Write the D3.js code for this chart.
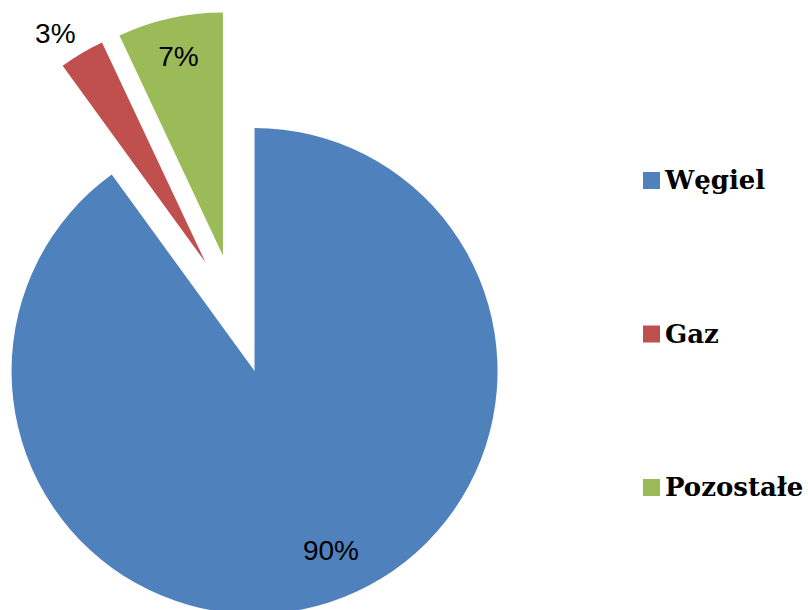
<!DOCTYPE html>
<html>
<head>
<meta charset="utf-8">
<script src="https://cdn.jsdelivr.net/npm/d3@7"></script>
<style>
  body { margin: 0; background: #fff; }
  svg { display: block; }
</style>
</head>
<body>
<div id="chart"></div>
<script>
// data
const categories = ["Węgiel", "Gaz", "Pozostałe"];
const shares = [90, 3, 7];
const colors = ["#4F81BD", "#C0504D", "#9BBB59"];

const width = 808, height = 610;
const center = { x: 236, y: 314 };
const radius = 243;
const explode = 60; // every slice pulled out from the centre

const svg = d3.select("#chart").append("svg")
    .attr("width", width)
    .attr("height", height);

const pie = d3.pie().sort(null).value(d => d)(shares);
const arc = d3.arc().innerRadius(0).outerRadius(radius);

const slices = svg.append("g")
    .attr("transform", `translate(${center.x},${center.y})`)
    .selectAll("g")
    .data(pie)
    .enter().append("g")
    .attr("transform", d => {
        const a = (d.startAngle + d.endAngle) / 2;
        return `translate(${explode * Math.sin(a)},${-explode * Math.cos(a)})`;
    });

slices.append("path")
    .attr("d", arc)
    .attr("fill", (d, i) => colors[i]);

// data labels: big slices inside, small ones just outside the rim
slices.append("text")
    .attr("transform", d => {
        let a = (d.startAngle + d.endAngle) / 2;
        if (d.value > 50) a -= 0.09; // excel nudges the big label toward the open side
        let r = d.value < 5 ? radius * 1.05 : radius * 0.84;
        if (d.value > 50) r = radius * 0.80;
        return `translate(${r * Math.sin(a)},${-r * Math.cos(a)})`;
    })
    .attr("text-anchor", d => d.value < 5 ? "end" : "middle")
    .attr("dy", d => d.value < 5 ? "0em" : "0.36em")
    .style("font-family", "'Liberation Sans', Arial, sans-serif")
    .style("font-size", "28px")
    .attr("fill", "#000")
    .text(d => d.value + "%");

// legend
const legend = svg.append("g")
    .selectAll("g")
    .data(categories)
    .enter().append("g")
    .attr("transform", (d, i) => `translate(643,${172 + i * 153.5})`);

legend.append("rect")
    .attr("width", 17)
    .attr("height", 17)
    .attr("fill", (d, i) => colors[i]);

legend.append("text")
    .attr("x", 22)
    .attr("y", 17)
    .style("font-family", "'DejaVu Serif', serif")
    .style("font-weight", "bold")
    .style("font-size", "26px")
    .attr("fill", "#000")
    .text(d => d);
</script>
</body>
</html>
